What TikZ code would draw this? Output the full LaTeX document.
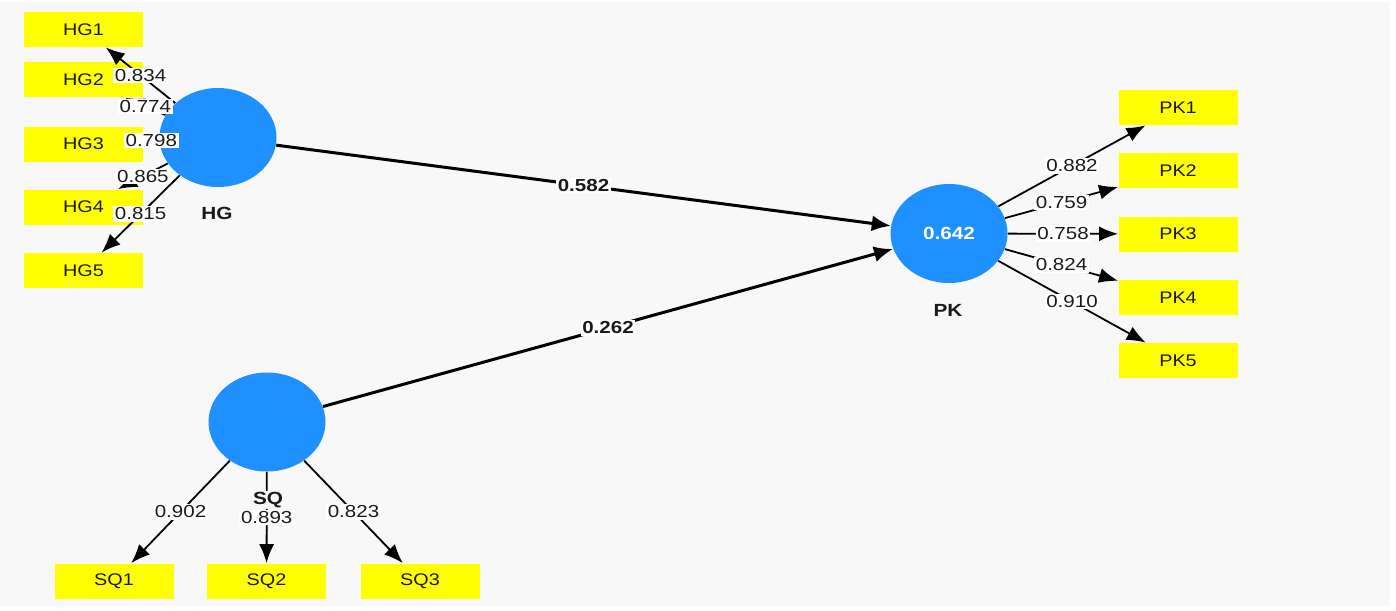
\documentclass[tikz,border=0pt]{standalone}
\usepackage{fontspec}
\setmainfont{Liberation Sans}
\usepackage{graphicx}
\usetikzlibrary{shapes.geometric,arrows.meta}
\definecolor{lvblue}{HTML}{1E90FF}
\definecolor{indyel}{HTML}{FFFF00}
\definecolor{bgcol}{HTML}{F8F8F8}
\definecolor{txt}{HTML}{1A1A1A}
\newcommand{\sx}[1]{\scalebox{1.18}[1]{#1}}
\begin{document}
\begin{tikzpicture}[x=0.5pt,y=-0.5pt,
  ind/.style={fill=indyel, minimum width=59.5pt, minimum height=17.5pt, inner sep=0pt, font=\fontsize{8.4}{10}\selectfont, text=txt},
  lv/.style={ellipse, fill=lvblue, minimum width=58.5pt, minimum height=49.5pt, inner sep=0pt},
  lvname/.style={font=\bfseries\fontsize{8.8}{10}\selectfont, text=txt, inner sep=0.5pt},
  load/.style={-{Latex[length=9.5pt,width=7.5pt]}, line width=0.9pt, black},
  struct/.style={-{Latex[length=9.5pt,width=8pt]}, line width=1.5pt, black},
  lbl/.style={fill=white, inner sep=0.8pt, font=\fontsize{8.7}{10}\selectfont, text=txt},
  blbl/.style={fill=white, inner sep=0.8pt, font=\bfseries\fontsize{8.7}{10}\selectfont, text=txt}]
\fill[white] (0,0) rectangle (1396,610);
\fill[bgcol] (0,2) rectangle (1390,606);
\useasboundingbox (0,0) rectangle (1396,610);

% latent variables
\node[lv] (HG) at (218,137.5) {};
\node[lv] (PK) at (949,233.5) {\textcolor{white}{\bfseries\fontsize{8.8}{10}\selectfont\sx{0.642}}};
\node[lv] (SQ) at (267,422) {};
\node[lvname] (HGn) at (217,213) {\sx{HG}};
\node[lvname] (PKn) at (948,310) {\sx{PK}};

% indicators
\node[ind] (HG1) at (83.5,29.5) {\sx{HG1}};
\node[ind] (HG2) at (83.5,80) {\sx{HG2}};
\node[ind] (HG3) at (83.5,144) {\sx{HG3}};
\node[ind] (HG4) at (83.5,207) {\sx{HG4}};
\node[ind] (HG5) at (83.5,270.5) {\sx{HG5}};
\node[ind] (PK1) at (1178,107.5) {\sx{PK1}};
\node[ind] (PK2) at (1178,170.5) {\sx{PK2}};
\node[ind] (PK3) at (1178,234) {\sx{PK3}};
\node[ind] (PK4) at (1178,297.5) {\sx{PK4}};
\node[ind] (PK5) at (1178,360.5) {\sx{PK5}};
\node[ind] (SQ1) at (114,581) {\sx{SQ1}};
\node[ind] (SQ2) at (266.5,581) {\sx{SQ2}};
\node[ind] (SQ3) at (420,581) {\sx{SQ3}};

% structural paths
\draw[struct] (HG) -- node[midway, blbl] {\sx{0.582}} (PK);
\draw[struct] (SQ) -- node[midway, blbl] {\sx{0.262}} (PK);

% loadings
\draw[load] (HG) -- node[midway, lbl] {\sx{0.834}} (HG1);
\draw[load] (HG) -- node[midway, lbl] {\sx{0.774}} (HG2);
\draw[load] (HG) -- node[midway, lbl] {\sx{0.798}} (HG3);
\draw[load] (HG) -- node[midway, lbl] {\sx{0.865}} (HG4);
\draw[load] (HG) -- node[midway, lbl] {\sx{0.815}} (HG5);
\draw[load] (PK) -- node[midway, lbl] {\sx{0.882}} (PK1);
\draw[load] (PK) -- node[midway, lbl] {\sx{0.759}} (PK2);
\draw[load] (PK) -- node[midway, lbl] {\sx{0.758}} (PK3);
\draw[load] (PK) -- node[midway, lbl] {\sx{0.824}} (PK4);
\draw[load] (PK) -- node[midway, lbl] {\sx{0.910}} (PK5);
\draw[load] (SQ) -- node[midway, lbl] {\sx{0.902}} (SQ1);
\draw[load] (SQ) -- node[midway, lbl] {\sx{0.893}} (SQ2);
\draw[load] (SQ) -- node[midway, lbl] {\sx{0.823}} (SQ3);

\node[lvname, fill=bgcol] (SQn) at (268,500) {\sx{SQ}};
\end{tikzpicture}
\end{document}
